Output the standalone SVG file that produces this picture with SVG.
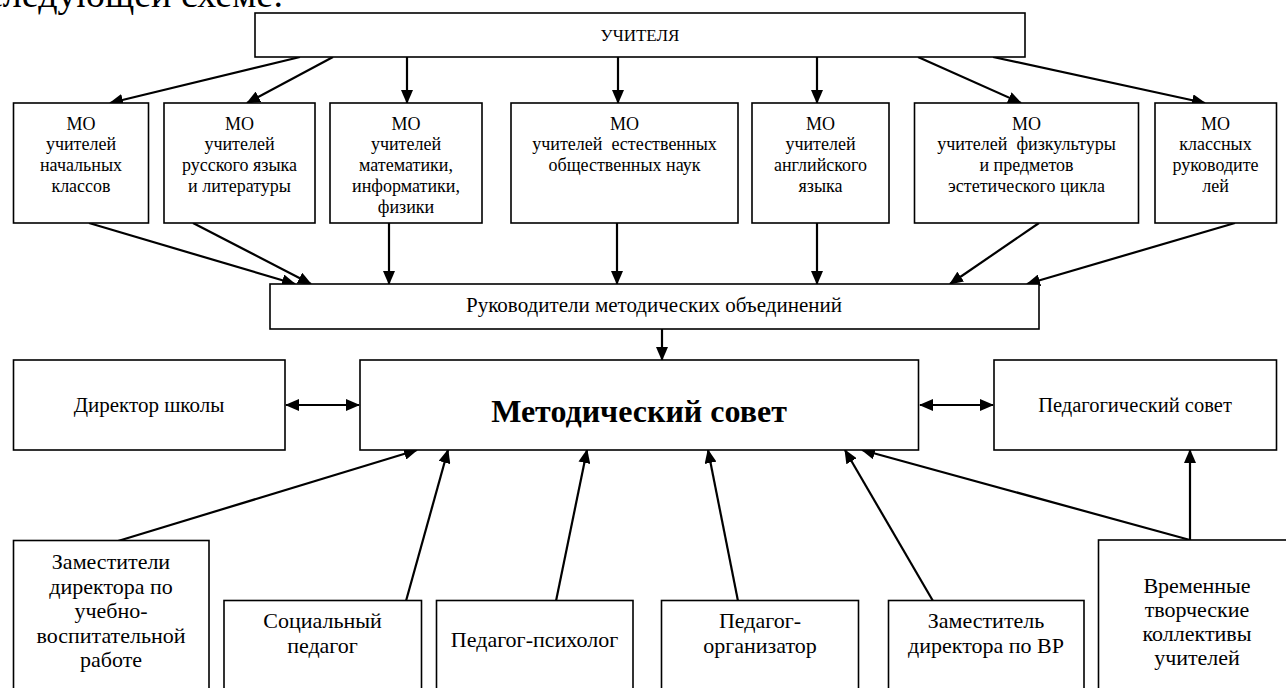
<svg xmlns="http://www.w3.org/2000/svg" width="1286" height="688" viewBox="0 0 1286 688">
<style>
.b{fill:#fff;stroke:#000;stroke-width:1.6}
.t{font-family:"Liberation Serif","Times New Roman",serif;fill:#000;text-anchor:middle}
.m{font-size:18px}
.s{font-size:21px}
.l{font-size:22px}
.c{stroke:#000;stroke-width:2.2;fill:none}
</style>
<defs>
<marker id="ah" markerWidth="14" markerHeight="12" refX="13" refY="6" orient="auto" markerUnits="userSpaceOnUse"><path d="M0,0 L14,6 L0,12 z" fill="#000"/></marker>
<marker id="ah2" markerWidth="14" markerHeight="12" refX="13" refY="6" orient="auto-start-reverse" markerUnits="userSpaceOnUse"><path d="M0,0 L14,6 L0,12 z" fill="#000"/></marker>
</defs>
<rect width="1286" height="688" fill="#fff"/>
<text class="t" x="-14" y="7" style="font-size:38px;text-anchor:start">следующей схеме:</text>

<g id="connectors">
<line class="c" x1="300" y1="57" x2="110" y2="103" marker-end="url(#ah)"/>
<line class="c" x1="333" y1="57" x2="247" y2="103" marker-end="url(#ah)"/>
<line class="c" x1="407" y1="57" x2="407" y2="103" marker-end="url(#ah)"/>
<line class="c" x1="618" y1="57" x2="618" y2="103" marker-end="url(#ah)"/>
<line class="c" x1="817" y1="57" x2="817" y2="103" marker-end="url(#ah)"/>
<line class="c" x1="918" y1="57" x2="1021" y2="103" marker-end="url(#ah)"/>
<line class="c" x1="993" y1="57" x2="1205" y2="103" marker-end="url(#ah)"/>

<line class="c" x1="89" y1="223" x2="295" y2="284" marker-end="url(#ah)"/>
<line class="c" x1="193" y1="223" x2="311" y2="284" marker-end="url(#ah)"/>
<line class="c" x1="389" y1="223" x2="389" y2="284" marker-end="url(#ah)"/>
<line class="c" x1="617" y1="223" x2="617" y2="284" marker-end="url(#ah)"/>
<line class="c" x1="817" y1="223" x2="817" y2="284" marker-end="url(#ah)"/>
<line class="c" x1="1039" y1="223" x2="950" y2="284" marker-end="url(#ah)"/>
<line class="c" x1="1235" y1="223" x2="1027" y2="284" marker-end="url(#ah)"/>

<line class="c" x1="662" y1="329" x2="662" y2="360" marker-end="url(#ah)"/>
<line class="c" x1="286" y1="405" x2="359" y2="405" marker-start="url(#ah2)" marker-end="url(#ah2)"/>
<line class="c" x1="920" y1="405" x2="993" y2="405" marker-start="url(#ah2)" marker-end="url(#ah2)"/>

<line class="c" x1="118" y1="541" x2="417" y2="450" marker-end="url(#ah)"/>
<line class="c" x1="406" y1="601" x2="448" y2="450" marker-end="url(#ah)"/>
<line class="c" x1="556" y1="601" x2="587" y2="450" marker-end="url(#ah)"/>
<line class="c" x1="738" y1="601" x2="708" y2="450" marker-end="url(#ah)"/>
<line class="c" x1="933" y1="601" x2="845" y2="450" marker-end="url(#ah)"/>
<line class="c" x1="1190" y1="540" x2="862" y2="450" marker-end="url(#ah)"/>
<line class="c" x1="1190" y1="540" x2="1190" y2="450" marker-end="url(#ah)"/>
</g>

<g id="uchitelya">
<rect class="b" x="255" y="13" width="770" height="44"/>
<text class="t" x="640" y="41" style="font-size:17px">УЧИТЕЛЯ</text>
</g>

<g id="mo1">
<rect class="b" x="13.5" y="103" width="135" height="120"/>
<text class="t m" x="81" y="129.5">МО</text>
<text class="t m" x="81" y="150.3">учителей</text>
<text class="t m" x="81" y="171.1">начальных</text>
<text class="t m" x="81" y="191.9">классов</text>
</g>
<g id="mo2">
<rect class="b" x="164" y="103" width="151" height="120"/>
<text class="t m" x="239.5" y="129.5">МО</text>
<text class="t m" x="239.5" y="150.3">учителей</text>
<text class="t m" x="239.5" y="171.1">русского языка</text>
<text class="t m" x="239.5" y="191.9">и литературы</text>
</g>
<g id="mo3">
<rect class="b" x="330" y="103" width="152" height="120"/>
<text class="t m" x="406" y="129.5">МО</text>
<text class="t m" x="406" y="150.3">учителей</text>
<text class="t m" x="406" y="171.1">математики,</text>
<text class="t m" x="406" y="191.9">информатики,</text>
<text class="t m" x="406" y="212.7">физики</text>
</g>
<g id="mo4">
<rect class="b" x="511" y="103" width="227" height="120"/>
<text class="t m" x="624.5" y="129.5">МО</text>
<text class="t m" x="624.5" y="150.3" xml:space="preserve">учителей  естественных</text>
<text class="t m" x="624.5" y="171.1">общественных наук</text>
</g>
<g id="mo5">
<rect class="b" x="752" y="103" width="137" height="120"/>
<text class="t m" x="820.5" y="129.5">МО</text>
<text class="t m" x="820.5" y="150.3">учителей</text>
<text class="t m" x="820.5" y="171.1">английского</text>
<text class="t m" x="820.5" y="191.9">языка</text>
</g>
<g id="mo6">
<rect class="b" x="914.5" y="103" width="224" height="120"/>
<text class="t m" x="1026.5" y="129.5">МО</text>
<text class="t m" x="1026.5" y="150.3" xml:space="preserve">учителей  физкультуры</text>
<text class="t m" x="1026.5" y="171.1">и предметов</text>
<text class="t m" x="1026.5" y="191.9">эстетического цикла</text>
</g>
<g id="mo7">
<rect class="b" x="1155" y="103" width="121.5" height="120"/>
<text class="t m" x="1215.5" y="129.5">МО</text>
<text class="t m" x="1215.5" y="150.3">классных</text>
<text class="t m" x="1215.5" y="171.1">руководите</text>
<text class="t m" x="1215.5" y="191.9">лей</text>
</g>

<g id="rukovoditeli">
<rect class="b" x="270" y="284" width="769" height="45"/>
<text class="t s" x="654" y="311.5">Руководители методических объединений</text>
</g>

<g id="direktor">
<rect class="b" x="13.5" y="360" width="271.5" height="90"/>
<text class="t s" x="149" y="412">Директор школы</text>
</g>
<g id="metodsovet">
<rect class="b" x="360" y="360" width="558.5" height="90"/>
<text class="t" x="639" y="421.5" style="font-size:32px;font-weight:bold">Методический совет</text>
</g>
<g id="pedsovet">
<rect class="b" x="994" y="360" width="282.5" height="90"/>
<text class="t" x="1135" y="412" style="font-size:20.5px">Педагогический совет</text>
</g>

<g id="zamestiteli">
<rect class="b" x="13.5" y="540.5" width="195.5" height="160"/>
<text class="t l" x="111" y="569">Заместители</text>
<text class="t l" x="111" y="593.6">директора по</text>
<text class="t l" x="111" y="618.2">учебно-</text>
<text class="t l" x="111" y="642.8">воспитательной</text>
<text class="t l" x="111" y="667.4">работе</text>
</g>
<g id="socped">
<rect class="b" x="224" y="600.5" width="197.5" height="100"/>
<text class="t l" x="322.5" y="628">Социальный</text>
<text class="t l" x="322.5" y="652.6">педагог</text>
</g>
<g id="psiholog">
<rect class="b" x="436.5" y="600.5" width="196.5" height="100"/>
<text class="t l" x="534.5" y="647">Педагог-психолог</text>
</g>
<g id="organizator">
<rect class="b" x="661.5" y="600.5" width="197" height="100"/>
<text class="t l" x="760" y="628">Педагог-</text>
<text class="t l" x="760" y="652.6">организатор</text>
</g>
<g id="zamvr">
<rect class="b" x="888.5" y="600.5" width="195.5" height="100"/>
<text class="t l" x="986" y="628">Заместитель</text>
<text class="t l" x="986" y="652.6">директора по ВР</text>
</g>
<g id="vremennye">
<rect class="b" x="1098.5" y="540" width="200" height="160"/>
<text class="t l" x="1197" y="593">Временные</text>
<text class="t l" x="1197" y="617">творческие</text>
<text class="t l" x="1197" y="641">коллективы</text>
<text class="t l" x="1197" y="665">учителей</text>
</g>
</svg>
